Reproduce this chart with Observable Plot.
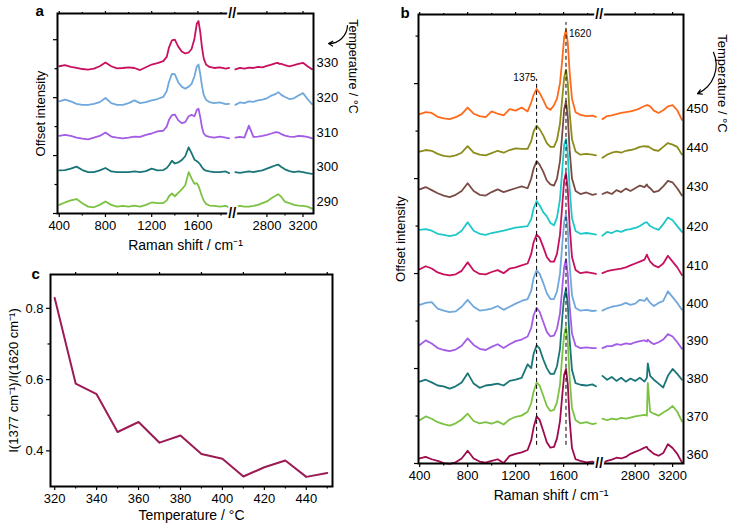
<!DOCTYPE html>
<html><head><meta charset="utf-8">
<script src="https://cdn.jsdelivr.net/npm/d3@7"></script>
<script src="https://cdn.jsdelivr.net/npm/@observablehq/plot@0.6"></script>
<style>
body{margin:0;background:#fff;}
#fig{position:relative;width:738px;height:526px;background:#fff;overflow:hidden;}
#fig > div{position:absolute;}
</style></head><body>
<div id="fig"><div id="pa" style="left:0;top:0"></div><div id="pb" style="left:370px;top:0"></div><div id="pc" style="left:0;top:262px"></div></div>
<script>
// ---------- Raman shift grid (cm-1), left and right of the axis break ----------
const ramanLeft = [400,450,500,550,600,650,700,750,800,850,900,950,1000,1050,1100,1150,1200,1250,1300,1330,1350,1375,1400,1430,1460,1490,1520,1545,1570,1590,1605,1620,1635,1650,1670,1700,1740,1790,1840,1870];
const ramanRight = [2450,2500,2550,2600,2650,2700,2750,2800,2850,2900,2925,2935,2960,3000,3050,3100,3150,3200,3250,3300];
const ramanShift = [...ramanLeft, ...ramanRight];
const ramanTicks = [400, 800, 1200, 1600, 2800, 3200];
const ramanMinorTicks = [600, 1000, 1400, 1800, 3000];
const breakShift = 2000;      // values above this are on the right of the break
const breakMark = 1897;       // compressed-axis position of the "//" mark

// ---------- panel a: intensities relative to each baseline ----------
const tempsA = [330, 320, 310, 300, 290];
const offsetsA = [4.22, 3.2, 2.2, 1.2, 0.2];
const colorsA = ["#c8105e", "#6fa8dc", "#a35ce6", "#1a7578", "#7cc242"];
const a330 = [0.05,0.08,0.03,0.0,-0.03,-0.05,-0.02,0.05,0.16,0.05,-0.01,0.0,0.02,0.0,-0.06,0.02,0.1,0.14,0.2,0.32,0.6,0.8,0.82,0.62,0.48,0.42,0.45,0.55,0.85,1.28,1.36,1.05,0.6,0.28,0.1,0.03,0.0,0.02,-0.02,0.0,
  -0.04,0.0,-0.02,0.01,0.0,0.03,0.02,0.06,0.1,0.14,0.15,0.12,0.12,0.08,0.05,0.08,0.12,0.15,0.05,-0.04];
const a320 = [0.05,0.1,0.05,-0.02,-0.05,-0.05,-0.02,0.03,0.15,0.0,-0.05,-0.05,0.0,0.08,0.0,0.03,0.08,0.12,0.18,0.35,0.62,0.85,0.84,0.6,0.48,0.42,0.48,0.56,0.78,1.06,1.12,0.85,0.5,0.24,0.1,0.03,0.0,0.02,-0.03,-0.02,
  -0.05,0.02,0.0,0.05,0.04,0.08,0.1,0.14,0.22,0.27,0.32,0.3,0.24,0.18,0.12,0.14,0.22,0.29,0.12,-0.03];
const a310 = [0.05,0.08,0.05,0.0,-0.03,-0.05,0.0,0.05,0.15,0.03,0.0,-0.02,0.0,0.03,0.02,0.08,0.12,0.18,0.2,0.32,0.52,0.65,0.67,0.5,0.42,0.45,0.62,0.66,0.62,0.8,0.84,0.6,0.3,0.12,0.05,0.02,0.0,0.03,0.0,-0.02,
  0.0,0.02,0.0,0.35,0.02,0.03,0.05,0.08,0.12,0.16,0.15,0.14,0.1,0.06,0.03,0.02,0.05,0.04,0.02,-0.02];
const a300 = [0.05,0.06,0.1,0.16,0.06,0.0,0.0,0.05,0.12,0.02,0.0,0.0,0.0,0.02,0.0,0.03,0.1,0.05,0.06,0.12,0.2,0.33,0.25,0.28,0.35,0.46,0.72,0.55,0.36,0.32,0.28,0.22,0.14,0.08,0.04,0.02,0.0,0.0,0.02,-0.03,
  0.0,-0.02,0.0,0.02,0.0,0.03,0.05,0.1,0.15,0.2,0.22,0.2,0.15,0.08,0.03,0.0,0.02,0.0,-0.03,-0.05];
const a290 = [0.05,0.12,0.18,0.22,0.1,0.0,-0.02,0.05,0.15,0.05,0.0,0.02,0.0,0.03,0.0,0.05,0.12,0.1,0.1,0.18,0.3,0.38,0.3,0.4,0.5,0.62,1.0,0.82,0.66,0.68,0.6,0.45,0.3,0.18,0.08,0.03,0.02,0.0,0.02,-0.02,
  0.0,0.02,0.0,0.0,0.02,0.05,0.1,0.15,0.24,0.32,0.36,0.34,0.28,0.14,0.1,0.05,0.03,0.02,0.0,-0.06];
const spectraA = [a330, a320, a310, a300, a290];

// ---------- panel b ----------
const tempsB = [450, 440, 430, 420, 410, 400, 390, 380, 370, 360];
const offsetsB = [9.0, 8.0, 6.98, 5.95, 4.93, 3.96, 2.99, 2.02, 1.04, 0.05];
const colorsB = ["#ff6a1a", "#8c8c1c", "#7a4b45", "#1cc8c8", "#c8105e", "#6fa8dc", "#a35ce6", "#1a7578", "#7cc242", "#9e0b4d"];
const b450 = [0.05,0.1,0.08,-0.02,-0.06,-0.08,-0.03,0.05,0.22,0.06,0.0,-0.03,0.12,0.06,0.02,0.18,0.14,0.22,0.12,0.35,0.55,0.7,0.6,0.42,0.22,0.16,0.28,0.45,0.85,1.5,2.05,2.23,1.9,1.15,0.45,0.1,0.03,0.0,0.01,-0.02,
  -0.08,0.0,0.02,0.05,0.08,0.1,0.12,0.15,0.2,0.26,0.28,0.28,0.25,0.14,0.08,0.15,0.25,0.28,0.15,-0.1];
const b440 = [0.08,0.12,0.1,0.02,-0.03,-0.05,-0.02,0.05,0.22,0.05,0.0,-0.02,0.04,0.1,0.05,0.12,0.16,0.15,0.15,0.35,0.6,0.75,0.66,0.5,0.3,0.2,0.2,0.38,0.8,1.5,2.0,2.2,1.85,1.1,0.4,0.08,0.0,0.02,0.0,-0.02,
  -0.08,0.0,0.05,0.08,0.05,0.1,0.12,0.15,0.2,0.22,0.2,0.22,0.18,0.12,0.1,0.2,0.3,0.26,0.2,0.0];
const b430 = [0.12,0.18,0.1,0.02,-0.04,-0.08,-0.02,0.08,0.28,0.08,-0.02,-0.04,0.05,0.12,0.05,0.1,0.15,0.2,0.15,0.4,0.66,0.85,0.76,0.58,0.35,0.25,0.22,0.4,0.85,1.6,2.2,2.4,2.0,1.15,0.4,0.08,0.0,0.04,-0.02,0.0,
  0.0,0.05,0.0,0.1,0.05,0.14,0.08,0.15,0.22,0.18,0.25,0.2,0.15,0.05,0.08,0.2,0.34,0.3,0.15,-0.04];
const b420 = [0.1,0.12,0.08,0.0,-0.03,-0.06,-0.03,0.08,0.3,0.08,0.0,-0.03,0.02,0.05,0.08,0.12,0.16,0.18,0.2,0.38,0.66,0.85,0.74,0.56,0.45,0.28,0.22,0.42,0.9,1.7,2.3,2.46,2.05,1.2,0.4,0.07,0.0,0.02,0.0,-0.02,
  -0.05,0.05,0.02,0.08,0.05,0.1,0.12,0.15,0.2,0.28,0.3,0.27,0.2,0.15,0.1,0.25,0.42,0.35,0.2,0.05];
const b410 = [0.1,0.18,0.12,0.02,-0.03,-0.06,-0.03,0.06,0.28,0.07,-0.02,-0.03,0.03,0.08,0.0,0.12,0.15,0.2,0.25,0.5,0.8,1.0,0.92,0.68,0.42,0.3,0.3,0.5,1.0,1.8,2.4,2.6,2.15,1.25,0.42,0.08,0.0,0.03,0.0,-0.02,
  0.0,0.05,0.08,0.1,0.12,0.15,0.2,0.25,0.3,0.35,0.48,0.42,0.3,0.2,0.15,0.25,0.45,0.3,0.15,-0.05];
const b400 = [0.15,0.2,0.22,0.05,0.0,-0.04,-0.02,0.1,0.28,0.1,0.0,0.02,0.05,0.12,0.02,0.1,0.18,0.25,0.3,0.52,0.85,1.04,0.96,0.72,0.45,0.3,0.3,0.5,0.95,1.75,2.3,2.5,2.1,1.2,0.4,0.07,0.0,0.02,-0.01,0.0,
  0.0,0.06,0.1,0.12,0.15,0.2,0.15,0.18,0.28,0.25,0.33,0.28,0.2,0.12,0.2,0.25,0.5,0.35,0.2,0.02];
const b390 = [0.08,0.2,0.12,0.0,-0.05,-0.08,-0.04,0.06,0.25,0.08,-0.02,-0.05,0.03,0.1,0.0,0.1,0.18,0.22,0.3,0.52,0.85,1.04,0.94,0.68,0.42,0.3,0.32,0.5,0.9,1.6,2.1,2.3,1.9,1.1,0.38,0.06,0.0,0.02,0.0,0.0,
  0.0,0.05,0.05,0.1,0.08,0.12,0.1,0.15,0.18,0.2,0.17,0.22,0.16,0.1,0.15,0.22,0.36,0.3,0.15,-0.02];
const b380 = [0.1,0.15,0.08,0.0,-0.02,-0.08,-0.02,0.08,0.32,0.05,-0.06,0.0,0.02,0.05,0.0,0.12,0.15,0.2,0.55,0.45,0.82,1.04,0.96,0.68,0.45,0.3,0.3,0.5,0.95,1.8,2.3,2.5,2.1,1.2,0.4,0.06,0.02,0.0,0.03,-0.02,
  0.25,0.15,0.22,0.12,0.2,0.1,0.18,0.12,0.2,0.1,0.2,0.57,0.25,0.15,0.05,-0.05,0.25,0.43,0.3,0.15];
const b370 = [0.08,0.18,0.12,0.03,-0.02,-0.06,0.0,0.1,0.25,0.06,0.0,0.03,-0.01,0.05,-0.03,0.1,0.17,0.2,0.3,0.52,0.82,1.06,0.98,0.72,0.45,0.32,0.35,0.55,1.0,1.8,2.3,2.5,2.1,1.2,0.4,0.08,0.0,0.03,-0.02,0.0,
  0.12,0.08,0.12,0.1,0.14,0.12,0.15,0.18,0.2,0.22,0.2,1.05,0.3,0.25,0.2,0.28,0.35,0.45,0.3,0.05];
const b360 = [0.08,0.12,0.06,0.02,-0.04,-0.06,-0.02,0.08,0.28,0.08,0.0,-0.03,0.02,0.06,-0.04,0.15,0.2,0.24,0.3,0.55,0.88,1.17,1.08,0.8,0.5,0.36,0.38,0.6,1.05,1.75,2.25,2.4,2.0,1.1,0.35,0.06,0.02,-0.02,0.0,-0.04,
  -0.04,0.02,0.05,0.1,0.08,0.12,0.2,0.25,0.3,0.36,0.38,0.33,0.28,0.2,0.15,0.22,0.45,0.35,0.2,-0.02];
const spectraB = [b450, b440, b430, b420, b410, b400, b390, b380, b370, b360];
const peakShifts = [1375, 1620];
const peakLineTops = [9.95, 11.42];
const peakLabelY = [9.98, 11.12];

// ---------- panel c ----------
const tempC = [320, 330, 340, 350, 360, 370, 380, 390, 400, 410, 420, 430, 440, 450];
const ratioC = [0.829, 0.589, 0.559, 0.453, 0.481, 0.423, 0.443, 0.391, 0.378, 0.328, 0.354, 0.373, 0.327, 0.338];
const tempTicks = [320, 340, 360, 380, 400, 420, 440];
const tempMinorTicks = [330, 350, 370, 390, 410, 430, 450];
const ratioTicks = [0.4, 0.6, 0.8];
const ratioMinorTicks = [0.5, 0.7];

// ---------- broken axis: compress the right segment ----------
const u = v => v <= breakShift ? v : 2197 + (v - 2800) * 0.78;
const ticksU = ramanTicks.map(u);
const tickText = v => { const i = ticksU.indexOf(v); return i < 0 ? "" : String(ramanTicks[i]); };

function rowsFor(temps, offsets, spectra) {
  const rows = [];
  temps.forEach((t, k) => spectra[k].forEach((v, i) => rows.push({
    t, x: ramanShift[i], y: v + offsets[k], seg: ramanShift[i] > breakShift ? "R" : "L"
  })));
  return rows;
}

const FONT = '"Liberation Sans", Arial, sans-serif';
const style = {fontFamily: FONT, fontSize: "13px", color: "black", background: "transparent", overflow: "visible"};
const blank = () => "";

function xAxes() {
  return [
    Plot.axisX({anchor: "bottom", ticks: ticksU, tickFormat: tickText, tickSize: 4, tickPadding: 3, fontSize: 13, label: null, strokeWidth: 1.2}),
    Plot.axisX({anchor: "bottom", ticks: ramanMinorTicks.map(u), tickFormat: blank, tickSize: 2.5, label: null, strokeWidth: 1.2}),
    Plot.axisX({anchor: "top", ticks: ticksU, tickFormat: blank, tickSize: 3, label: null, strokeWidth: 1.2}),
    Plot.axisX({anchor: "top", ticks: ramanMinorTicks.map(u), tickFormat: blank, tickSize: 2, label: null, strokeWidth: 1.2})
  ];
}

// ---------------- Panel a ----------------
const yMaxA = 5.8;
const yTicksA = [0, 1.68, 3.36, 5.04];
const yMinorA = [0.84, 2.52, 4.2];
const rowsA = rowsFor(tempsA, offsetsA, spectraA);
const arrowA = [{x1: 2894, y1: 5.45, x2: 2730, y2: 4.93}];

const plotA = Plot.plot({
  width: 370, height: 260,
  marginLeft: 57, marginRight: 57, marginTop: 13, marginBottom: 47,
  style,
  x: {domain: [385, 2600], axis: null},
  y: {domain: [0, yMaxA], axis: null},
  color: {type: "ordinal", domain: tempsA, range: colorsA},
  marks: [
    Plot.line(rowsA, {x: d => u(d.x), y: "y", z: d => d.t + d.seg, stroke: "t", strokeWidth: 1.8, curve: "linear"}),
    Plot.frame({stroke: "black", strokeWidth: 2}),
    ...xAxes(),
    Plot.axisY({anchor: "left", ticks: yTicksA, tickFormat: blank, tickSize: 4, label: null, strokeWidth: 1.2}),
    Plot.axisY({anchor: "left", ticks: yMinorA, tickFormat: blank, tickSize: 2.5, label: null, strokeWidth: 1.2}),
    Plot.text([0, yMaxA], {x: () => breakMark, y: d => d, text: () => "//", fontSize: 14, fontWeight: "bold", fill: "black", stroke: "white", strokeWidth: 4}),
    Plot.text(tempsA, {x: () => 2600, y: (d, i) => offsetsA[i] + 0.15, text: d => String(d), textAnchor: "start", dx: 3, fontSize: 13}),
    Plot.text(["Raman shift / cm⁻¹"], {frameAnchor: "bottom", dy: 32, fontSize: 14, lineAnchor: "middle"}),
    Plot.text(["Offset intensity"], {frameAnchor: "left", dx: -17, rotate: -90, textAnchor: "middle", lineAnchor: "middle", fontSize: 13}),
    Plot.text(["Temperature / °C"], {frameAnchor: "top-right", dx: 39, dy: 53, rotate: 90, textAnchor: "middle", lineAnchor: "middle", fontSize: 12.5}),
    Plot.text(["a"], {frameAnchor: "top-left", dx: -22, dy: -2, textAnchor: "start", lineAnchor: "middle", fontSize: 15, fontWeight: "bold"}),
    Plot.arrow(arrowA, {x1: "x1", y1: "y1", x2: "x2", y2: "y2", bend: 45, headLength: 6, strokeWidth: 1.2, stroke: "black"})
  ]
});
document.getElementById("pa").append(plotA);

// ---------------- Panel b ----------------
const yMaxB = 11.63;
const yTicksB = [0, 2.46, 4.92, 7.38, 9.84];
const yMinorB = [1.23, 3.69, 6.15, 8.61, 11.07];
const rowsB = rowsFor(tempsB, offsetsB, spectraB);
const arrowB = [{x1: 2850, y1: 10.65, x2: 2717, y2: 9.58}];

const plotB = Plot.plot({
  width: 368, height: 526,
  marginLeft: 48, marginRight: 55, marginTop: 14, marginBottom: 63,
  style,
  x: {domain: [390, 2600], axis: null},
  y: {domain: [0, yMaxB], axis: null},
  color: {type: "ordinal", domain: tempsB, range: colorsB},
  marks: [
    Plot.line(rowsB, {x: d => u(d.x), y: "y", z: d => d.t + d.seg, stroke: "t", strokeWidth: 1.8, curve: "linear"}),
    Plot.ruleX(peakShifts, {x: d => u(d), y1: 0.47, y2: (d, i) => peakLineTops[i], stroke: "black", strokeWidth: 1, strokeDasharray: "4,3"}),
    Plot.text([peakShifts[0]], {x: d => u(d), y: () => peakLabelY[0], text: d => String(d), textAnchor: "end", dx: -1, fontSize: 10}),
    Plot.text([peakShifts[1]], {x: d => u(d), y: () => peakLabelY[1], text: d => String(d), textAnchor: "start", dx: 3, fontSize: 10}),
    Plot.frame({stroke: "black", strokeWidth: 2}),
    ...xAxes(),
    Plot.axisY({anchor: "left", ticks: yTicksB, tickFormat: blank, tickSize: 4, label: null, strokeWidth: 1.2}),
    Plot.axisY({anchor: "left", ticks: yMinorB, tickFormat: blank, tickSize: 2.5, label: null, strokeWidth: 1.2}),
    Plot.text([0, yMaxB], {x: () => breakMark, y: d => d, text: () => "//", fontSize: 14, fontWeight: "bold", fill: "black", stroke: "white", strokeWidth: 4}),
    Plot.text(tempsB, {x: () => 2600, y: (d, i) => offsetsB[i] + 0.18, text: d => String(d), textAnchor: "start", dx: 3, fontSize: 13}),
    Plot.text(["Raman shift / cm⁻¹"], {frameAnchor: "bottom", dy: 32, fontSize: 14, lineAnchor: "middle"}),
    Plot.text(["Offset intensity"], {frameAnchor: "left", dx: -18, rotate: -90, textAnchor: "middle", lineAnchor: "middle", fontSize: 13}),
    Plot.text(["Temperature / °C"], {frameAnchor: "top-right", dx: 39, dy: 69, rotate: 90, textAnchor: "middle", lineAnchor: "middle", fontSize: 13}),
    Plot.text(["b"], {frameAnchor: "top-left", dx: -18, dy: -1, textAnchor: "start", lineAnchor: "middle", fontSize: 15, fontWeight: "bold"}),
    Plot.arrow(arrowB, {x1: "x1", y1: "y1", x2: "x2", y2: "y2", bend: 45, headLength: 6, strokeWidth: 1.2, stroke: "black"})
  ]
});
document.getElementById("pb").append(plotB);

// ---------------- Panel c ----------------
const plotC = Plot.plot({
  width: 370, height: 264,
  marginLeft: 50, marginRight: 38, marginTop: 12, marginBottom: 40,
  style,
  x: {domain: [318, 452.5], axis: null},
  y: {domain: [0.3, 0.895], axis: null},
  marks: [
    Plot.line(tempC.map((t, i) => ({t, r: ratioC[i]})), {x: "t", y: "r", stroke: "#9b1b55", strokeWidth: 2}),
    Plot.frame({stroke: "black", strokeWidth: 2}),
    Plot.axisX({anchor: "bottom", ticks: tempTicks, tickFormat: d => String(d), tickSize: 4, tickPadding: 3, fontSize: 13, label: null, strokeWidth: 1.2}),
    Plot.axisX({anchor: "bottom", ticks: tempMinorTicks, tickFormat: blank, tickSize: 2.5, label: null, strokeWidth: 1.2}),
    Plot.axisX({anchor: "top", ticks: tempMinorTicks, tickFormat: blank, tickSize: 3, label: null, strokeWidth: 1.2}),
    Plot.axisY({anchor: "left", ticks: ratioTicks, tickFormat: d3.format(".1f"), tickSize: 4, tickPadding: 3, fontSize: 13, label: null, strokeWidth: 1.2}),
    Plot.axisY({anchor: "left", ticks: ratioMinorTicks, tickFormat: blank, tickSize: 2.5, label: null, strokeWidth: 1.2}),
    Plot.text(["Temperature / °C"], {frameAnchor: "bottom", dy: 29, fontSize: 14, lineAnchor: "middle"}),
    Plot.text(["I(1377 cm⁻¹)/I(1620 cm⁻¹)"], {frameAnchor: "left", dx: -37, rotate: -90, textAnchor: "middle", lineAnchor: "middle", fontSize: 13}),
    Plot.text(["c"], {frameAnchor: "top-left", dx: -19, dy: 0, textAnchor: "start", lineAnchor: "middle", fontSize: 15, fontWeight: "bold"})
  ]
});
document.getElementById("pc").append(plotC);
</script>
</body></html>
